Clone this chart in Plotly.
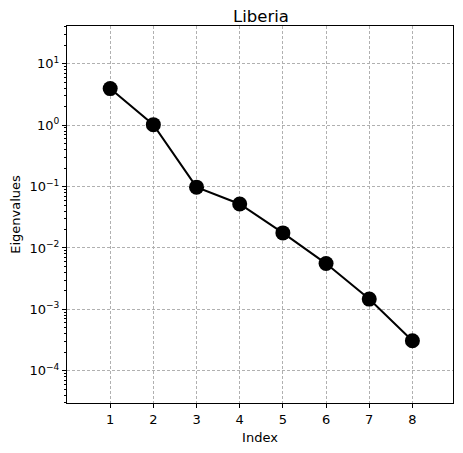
import plotly.graph_objects as go

index = [1, 2, 3, 4, 5, 6, 7, 8]
eigenvalues = [3.94, 1.02, 0.0978, 0.052, 0.0176, 0.00557, 0.00147, 0.000309]
title = "Liberia"
y_tick_vals = [1e-4, 1e-3, 1e-2, 1e-1, 1e0, 1e1]
y_tick_text = ["10<sup>−4</sup>", "10<sup>−3</sup>", "10<sup>−2</sup>",
               "10<sup>−1</sup>", "10<sup>0</sup>", "10<sup>1</sup>"]
x_tick_vals = [1, 2, 3, 4, 5, 6, 7, 8]

minor_vals = [m * 10.0 ** e for e in range(-5, 2) for m in range(2, 10)]

# page body has an 8px margin; keep the figure inside the window
OFF = 8
W, H = 463 - 2 * OFF, 453 - 2 * OFF
PLOT_L, PLOT_R, PLOT_T, PLOT_B = 66.5, 454, 26, 407.3

fig = go.Figure()
fig.add_trace(go.Scatter(
    x=index, y=eigenvalues, mode="lines+markers",
    line=dict(color="black", width=2),
    marker=dict(color="black", size=15),
    showlegend=False,
))

font = "DejaVu Sans, sans-serif"
fig.update_layout(
    width=W, height=H,
    margin=dict(l=PLOT_L - OFF, r=W + OFF - PLOT_R, t=PLOT_T - OFF, b=H + OFF - PLOT_B, pad=0),
    paper_bgcolor="white", plot_bgcolor="white",
    font=dict(family=font, color="black", size=13),
    title=dict(text=title, x=(261 - OFF) / W, xanchor="center", y=1 - (16 - OFF) / H, yanchor="middle",
               font=dict(size=16.5, family=font, color="black")),
)
grid = dict(showgrid=True, gridcolor="#b0b0b0", griddash="3px,2px", gridwidth=0.8)
fig.update_xaxes(
    range=[0, 8.94], tickvals=x_tick_vals, ticks="outside", ticklen=4, tickcolor="black",
    showline=True, linecolor="black", linewidth=1, mirror=True,
    zeroline=False, tickfont=dict(size=13),
    title=dict(text="Index", font=dict(size=13), standoff=8),
    **grid,
)
fig.update_yaxes(
    type="log", range=[-4.525, 1.615], tickvals=y_tick_vals, ticktext=y_tick_text,
    ticks="outside", ticklen=4, tickcolor="black",
    showline=True, linecolor="black", linewidth=1, mirror=True,
    zeroline=False, tickfont=dict(size=13),
    minor=dict(tickvals=minor_vals, ticks="outside", ticklen=2, tickcolor="black", showgrid=False),
    title=dict(text="Eigenvalues", font=dict(size=13), standoff=8),
    **grid,
)
fig.write_html("out.html")
